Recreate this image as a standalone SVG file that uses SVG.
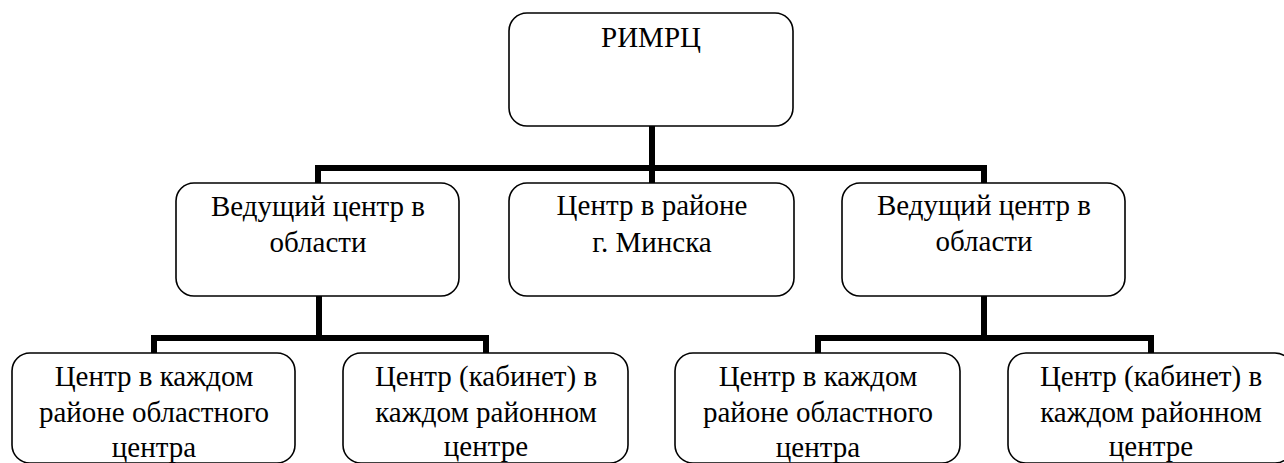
<svg xmlns="http://www.w3.org/2000/svg" width="1284" height="463" viewBox="0 0 1284 463">
<style>
.box{fill:#fff;stroke:#000;stroke-width:1.6}
.con{fill:none;stroke:#000;stroke-width:6;stroke-linejoin:miter;stroke-linecap:butt}
</style>
<rect width="1284" height="463" fill="#fff"/>
<g id="connectors">
<path class="con" d="M652 126V183"/>
<path class="con" d="M318 183V168H984V183"/>
<path class="con" d="M319 296V338"/>
<path class="con" d="M154 353V338H486V353"/>
<path class="con" d="M984 296V338"/>
<path class="con" d="M818 353V338H1151V353"/>
</g>
<g font-family="Liberation Serif, Tinos, Noto Serif, DejaVu Serif, Times New Roman, Times, serif" font-size="29" fill="#000" text-anchor="middle">
<g id="rimrc">
<rect class="box" x="509" y="13" width="284" height="113" rx="18"/>
<text x="651" y="47">РИМРЦ</text>
</g>
<g id="lead-left">
<rect class="box" x="176" y="183" width="283" height="113" rx="18"/>
<text x="318" y="216">Ведущий центр в</text>
<text x="318" y="252">области</text>
</g>
<g id="minsk">
<rect class="box" x="509" y="183" width="285" height="113" rx="18"/>
<text x="652" y="215">Центр в районе</text>
<text x="652" y="252">г. Минска</text>
</g>
<g id="lead-right">
<rect class="box" x="842" y="183" width="283" height="113" rx="18"/>
<text x="984" y="215">Ведущий центр в</text>
<text x="984" y="251">области</text>
</g>
<g id="bl1">
<rect class="box" x="12" y="353" width="283" height="110" rx="18"/>
<text x="154" y="386">Центр в каждом</text>
<text x="154" y="422">районе областного</text>
<text x="154" y="457">центра</text>
</g>
<g id="bl2">
<rect class="box" x="343" y="353" width="285" height="110" rx="18"/>
<text x="486" y="386">Центр (кабинет) в</text>
<text x="486" y="422">каждом районном</text>
<text x="486" y="456">центре</text>
</g>
<g id="br1">
<rect class="box" x="675" y="353" width="285" height="110" rx="18"/>
<text x="818" y="386">Центр в каждом</text>
<text x="818" y="422">районе областного</text>
<text x="818" y="457">центра</text>
</g>
<g id="br2">
<rect class="box" x="1008" y="353" width="285" height="110" rx="18"/>
<text x="1151" y="386">Центр (кабинет) в</text>
<text x="1151" y="422">каждом районном</text>
<text x="1151" y="456">центре</text>
</g>
</g>
</svg>
